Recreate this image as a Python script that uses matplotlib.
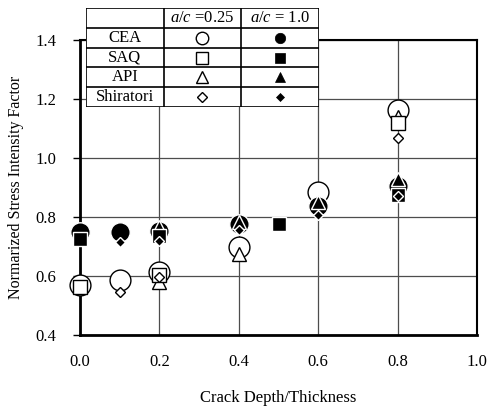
import matplotlib
matplotlib.use("Agg")
import matplotlib.pyplot as plt

plt.rcParams["font.family"] = ["Liberation Serif", "DejaVu Serif"]
plt.rcParams["mathtext.fontset"] = "custom"
plt.rcParams["mathtext.it"] = "Liberation Serif:italic"
plt.rcParams["mathtext.rm"] = "Liberation Serif"

# crack depth / thickness and normalized SIF
cea_x = [0.0, 0.1, 0.2, 0.4, 0.6, 0.8]
cea_025 = [0.571, 0.588, 0.612, 0.700, 0.885, 1.162]
cea_10 = [0.749, 0.749, 0.752, 0.776, 0.838, 0.906]

saq_x_025 = [0.0, 0.2, 0.8]
saq_025 = [0.564, 0.605, 1.118]
saq_x_10 = [0.0, 0.2, 0.5, 0.8]
saq_10 = [0.725, 0.735, 0.776, 0.875]

api_x_025 = [0.2, 0.4, 0.8]
api_025 = [0.578, 0.673, 1.140]
api_x_10 = [0.2, 0.4, 0.6, 0.8]
api_10 = [0.766, 0.783, 0.851, 0.930]

shi_x_025 = [0.1, 0.2, 0.8]
shi_025 = [0.547, 0.595, 1.067]
shi_x_10 = [0.1, 0.2, 0.4, 0.6, 0.8]
shi_10 = [0.714, 0.718, 0.756, 0.807, 0.872]

methods = ["CEA", "SAQ", "API", "Shiratori"]
headers = ["$a/c$ =0.25", "$a/c$ = 1.0"]

fig = plt.figure(figsize=(4.88, 4.07), dpi=100)
ax = fig.add_axes([0.1639, 0.1769, 0.8136, 0.7248])

open_kw = dict(ls="none", mfc="white", mec="black", mew=1.0, zorder=3, clip_on=False)
fill_kw = dict(ls="none", mfc="black", mec="white", mew=1.0, zorder=4, clip_on=False)

ax.plot(cea_x, cea_025, "o", ms=15, **open_kw)
ax.plot(api_x_025, api_025, "^", ms=10, **open_kw)
ax.plot(saq_x_025, saq_025, "s", ms=10, **open_kw)
ax.plot(shi_x_025, shi_025, "D", ms=5, **open_kw)

ax.plot(cea_x, cea_10, "o", ms=14, **fill_kw)
ax.plot(api_x_10, api_10, "^", ms=10, **fill_kw)
ax.plot(saq_x_10, saq_10, "s", ms=10, **fill_kw)
ax.plot(shi_x_10, shi_10, "D", ms=5.5, **fill_kw)

ax.set_xlim(0, 1.0)
ax.set_ylim(0.4, 1.4)
ax.set_xticks([0.0, 0.2, 0.4, 0.6, 0.8, 1.0])
ax.set_yticks([0.4, 0.6, 0.8, 1.0, 1.2, 1.4])
ax.xaxis.set_major_formatter(plt.FormatStrFormatter("%.1f"))
ax.yaxis.set_major_formatter(plt.FormatStrFormatter("%.1f"))
ax.grid(True, color="0.3", lw=0.9)
ax.set_axisbelow(True)
ax.tick_params(axis="x", length=0, pad=14, labelsize=12)
ax.tick_params(axis="y", length=5, width=1, direction="out", pad=12, labelsize=12)
for s in ax.spines.values():
    s.set_linewidth(1.5)
ax.spines["left"].set_linewidth(2)
ax.spines["bottom"].set_linewidth(2)
ax.set_xlabel("Crack Depth/Thickness", fontsize=12, labelpad=14)
ax.set_ylabel("Normarized Stress Intensity Factor", fontsize=11.5, labelpad=8)

# marker key table, overlapping the top of the plot
tab = fig.add_axes([0.1762, 0.7371, 0.4775, 0.2432])
tab.set_xlim(0, 3)
tab.set_ylim(5, 0)
tab.axis("off")
tab.add_patch(plt.Rectangle((0, 0), 3, 5, fc="white", ec="none", zorder=0))
for r in range(6):
    tab.plot([0, 3], [r, r], color="black", lw=1.2, zorder=1)
for c in range(4):
    tab.plot([c, c], [0, 5], color="black", lw=1.2, zorder=1)
for c, h in enumerate(headers):
    tab.text(c + 1.5, 0.5, h, ha="center", va="center", fontsize=12)
open_marks = [("o", 9), ("s", 8), ("^", 8), ("D", 5)]
fill_marks = [("o", 7.5), ("s", 6.5), ("^", 6.5), ("D", 4.5)]
for r, name in enumerate(methods):
    y = r + 1.5
    tab.text(0.5, y, name, ha="center", va="center", fontsize=12)
    m, s = open_marks[r]
    tab.plot(1.5, y, m, ms=s, mfc="white", mec="black", mew=1.0)
    m, s = fill_marks[r]
    tab.plot(2.5, y, m, ms=s, mfc="black", mec="black", mew=0.5)

fig.savefig("out.png", dpi=100)
